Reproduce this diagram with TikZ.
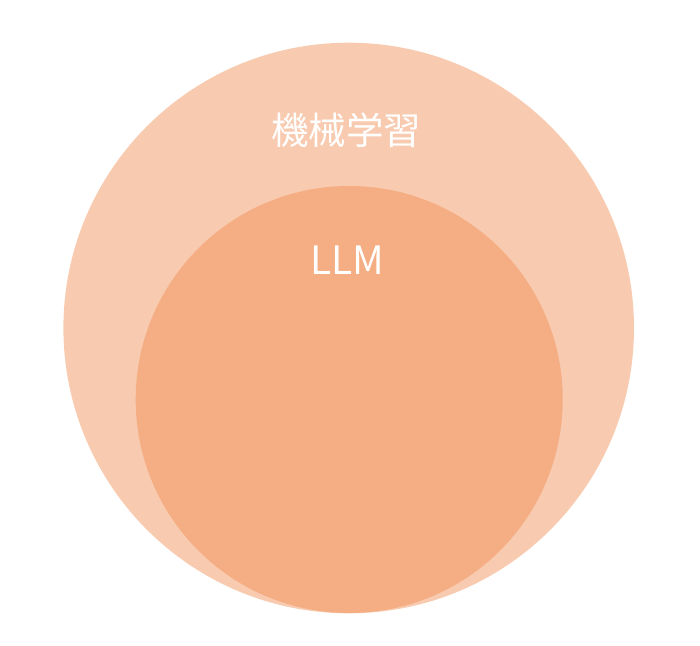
\documentclass[tikz,border=0pt]{standalone}
\usepackage{fontspec}
\newfontfamily\cjk{Noto Sans CJK JP}
\definecolor{outerc}{RGB}{248,203,176}
\definecolor{innerc}{RGB}{245,173,131}
\begin{document}
\begin{tikzpicture}[x=1pt,y=-1pt,
  lbl/.style={text=white,inner sep=0pt,anchor=center}]
\useasboundingbox (0,0) rectangle (700,645);
\fill[outerc] (348.7,328) circle[radius=285.3];
\fill[innerc] (349.2,399.5) circle[radius=213.5];
\node[lbl,font=\cjk\fontsize{37.5}{42}\selectfont] (ml) at (346,130) {機械学習};
\node[lbl,font=\cjk\fontsize{39}{44}\selectfont] (llm) at (347.5,260) {LLM};
\end{tikzpicture}
\end{document}
